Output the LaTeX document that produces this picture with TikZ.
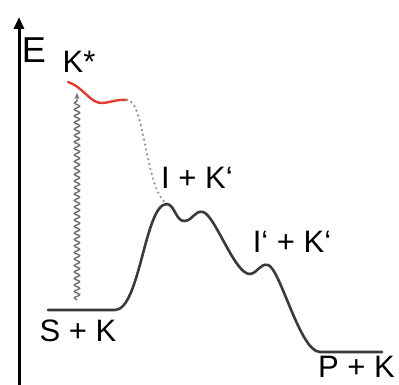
\documentclass[tikz,border=0pt]{standalone}
\usepackage{fontspec}
\setmainfont{Liberation Sans}
\usetikzlibrary{arrows.meta,decorations.pathmorphing}
\definecolor{curvegray}{RGB}{58,58,58}
\definecolor{excitered}{RGB}{222,62,52}
\definecolor{dotgray}{RGB}{150,150,150}
\definecolor{wavegray}{RGB}{110,110,110}

\begin{document}
\begin{tikzpicture}[x=1pt, y=-1pt,
    every node/.style={font=\fontsize{31}{31}\selectfont, inner sep=0pt},
    path/.style={curvegray, line width=2.6pt, line cap=round, line join=round}]
  \useasboundingbox (0,0) rectangle (399,385);
  % energy axis
  \coordinate (axbot) at (19,390);
  \coordinate (axtop) at (19,17);
  \draw[line width=3pt, -{Triangle[length=12pt,width=10pt]}] (axbot) -- (axtop);
  \node[font=\fontsize{36}{36}\selectfont] (E) at (34,50) {E};
  % labels of the states
  \node (Kstar) at (79,62) {K*};
  \node (IK) at (197,178) {I + K‘};
  \node (IIK) at (292,242) {I‘ + K‘};
  \node (SK) at (78,331) {S + K};
  \node[anchor=east] (PK) at (395,367) {P + K};
  % reaction path
  \coordinate (start) at (48,310);
  \coordinate (peak) at (167,204);
  \coordinate (end) at (382,352);
  \draw[path] (start) -- (115,310)
    .. controls (140,310) and (145,203) .. (peak)
    .. controls (175,205) and (176,222) .. (185,221)
    .. controls (193,220) and (195,210) .. (203,212)
    .. controls (215,215) and (235,275) .. (250,274)
    .. controls (258,273) and (260,263) .. (268,265)
    .. controls (280,268) and (300,352) .. (320,352)
    -- (end);
  % excited state
  \coordinate (exA) at (68,82);
  \coordinate (exB) at (127,100);
  \draw[excitered, line width=2.4pt, line cap=round]
    (exA) .. controls (85,88) and (90,104) .. (103,103)
    .. controls (112,102) and (118,99) .. (exB);
  \draw[dotgray, line width=2.6pt, line cap=round, dash pattern=on 0pt off 5pt]
    (exB) .. controls (145,100) and (145,190) .. (peak);
  % excitation
  \coordinate (wbot) at (77,300);
  \coordinate (wtop) at (77,93);
  \draw[wavegray, line width=1.4pt, -{Stealth[length=6pt,width=5pt]},
    decorate, decoration={snake, amplitude=2.6pt, segment length=6.5pt, post length=6pt}]
    (wbot) -- (wtop);
\end{tikzpicture}
\end{document}
